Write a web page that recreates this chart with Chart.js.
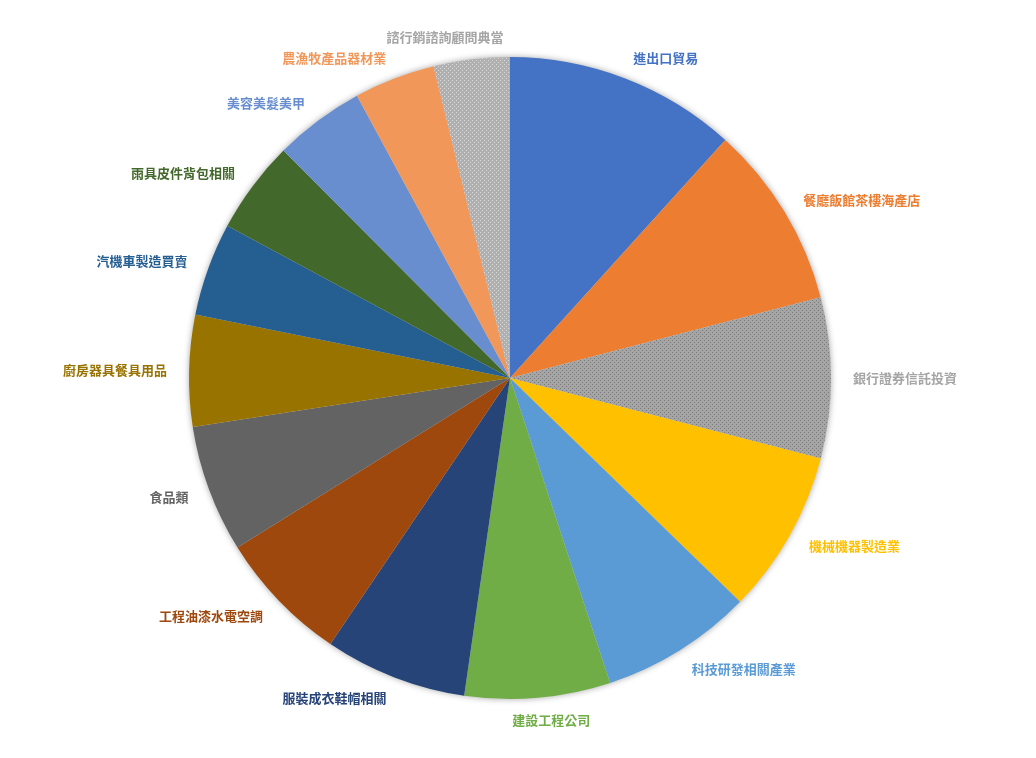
<!DOCTYPE html>
<html><head><meta charset="utf-8">
<script src="https://cdn.jsdelivr.net/npm/chart.js@4"></script>
<style>html,body{margin:0;padding:0;background:#fff}#wrap{width:1036px;height:758px}</style>
</head><body><div id="wrap"><canvas id="c" width="1036" height="758"></canvas></div>
<script>
const categories = ["進出口貿易","餐廳飯館茶樓海產店","銀行證券信託投資","機械機器製造業","科技研發相關產業","建設工程公司","服裝成衣鞋帽相關","工程油漆水電空調","食品類","廚房器具餐具用品","汽機車製造買賣","雨具皮件背包相關","美容美髮美甲","農漁牧產品器材業","諮行銷諮詢顧問典當"];
const values = [11.7,9.25,8.08,8.25,7.67,7.33,7.17,6.69,6.42,5.61,4.69,4.67,4.56,4.08,3.83];
const colors = ["#4472C4","#ED7D31","#A5A5A5","#FFC000","#5B9BD5","#70AD47","#264478","#9E480E","#636363","#997300","#255E91","#43682B","#698ED0","#F1975A","#B7B7B7"];
const labelColors = ["#4472C4","#ED7D31","#A5A5A5","#FFC000","#5B9BD5","#70AD47","#264478","#9E480E","#636363","#997300","#255E91","#43682B","#698ED0","#F1975A","#A5A5A5"];

function dotPattern(bg, dot){
  const t=document.createElement('canvas'); t.width=4; t.height=4;
  const x=t.getContext('2d'); x.fillStyle=bg; x.fillRect(0,0,4,4);
  x.fillStyle=dot; x.fillRect(0,0,1,1); x.fillRect(2,2,1,1);
  return document.getElementById('c').getContext('2d').createPattern(t,'repeat');
}
const fills = colors.slice();
fills[2] = dotPattern("#A5A5A5","#7A7A7A");
fills[14] = dotPattern("#B0B0B0","#D8D8D8");

const shadowPlugin = {
  id:'shadow',
  beforeDatasetsDraw(chart){
    const a = chart.getDatasetMeta(0).data[0]; if(!a) return;
    const ctx=chart.ctx; ctx.save();
    ctx.shadowColor='rgba(0,0,0,0.35)'; ctx.shadowBlur=6;
    ctx.fillStyle='#ddd'; ctx.beginPath(); ctx.arc(a.x,a.y,a.outerRadius,0,Math.PI*2); ctx.fill();
    ctx.restore();
  }
};
const labelPlugin = {
  id:'outLabels',
  afterDatasetsDraw(chart){
    const ctx=chart.ctx; ctx.save();
    ctx.font='bold 13px "Noto Sans CJK TC","Noto Sans CJK SC",sans-serif';
    ctx.textBaseline='middle';
    chart.getDatasetMeta(0).data.forEach((arc,i)=>{
      const mid=(arc.startAngle+arc.endAngle)/2;
      const r=arc.outerRadius+22;
      const ax=arc.x+Math.cos(mid)*r, ay=arc.y+Math.sin(mid)*r;
      const s=Math.cos(mid); // horizontal component
      const w=ctx.measureText(categories[i]).width;
      let f=0.5-1.7*s; f=Math.max(0,Math.min(1,f));
      ctx.fillStyle=labelColors[i]; ctx.textAlign='left';
      ctx.fillText(categories[i], ax-w*f, ay);
    });
    ctx.restore();
  }
};
new Chart(document.getElementById('c'),{
  type:'pie',
  data:{labels:categories,datasets:[{data:values,backgroundColor:fills,borderWidth:0}]},
  options:{responsive:false,animation:false,
    layout:{padding:{left:189,right:205,top:57,bottom:59}},
    plugins:{legend:{display:false},tooltip:{enabled:false}}},
  plugins:[shadowPlugin,labelPlugin]
});
</script></body></html>
